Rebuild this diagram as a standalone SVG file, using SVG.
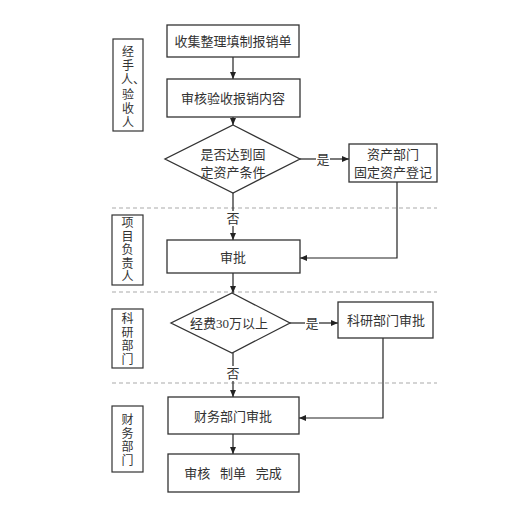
<svg xmlns="http://www.w3.org/2000/svg" width="521" height="506" viewBox="0 0 521 506">
<defs>
<marker id="arr" markerWidth="8" markerHeight="8" refX="7" refY="4" orient="auto" markerUnits="userSpaceOnUse">
<path d="M0,1 L7,4 L0,7 Z" fill="#222"/>
</marker>
<style>
.box{fill:#fff;stroke:#333;stroke-width:1.3}
.lane{fill:#fff;stroke:#333;stroke-width:1.2}
.t{font-family:"Liberation Serif","Noto Sans CJK SC",serif;font-size:13px;fill:#333;text-anchor:middle;dominant-baseline:central}
.v{font-size:12px}
.ln{fill:none;stroke:#222;stroke-width:1.2}
.dash{stroke:#aaa;stroke-width:1.2;stroke-dasharray:4,3}
</style>
</defs>
<rect width="521" height="506" fill="#fff"/>
<g id="separators">
<line class="dash" x1="112" y1="208" x2="437" y2="208"/>
<line class="dash" x1="112" y1="292" x2="437" y2="292"/>
<line class="dash" x1="112" y1="383" x2="437" y2="383"/>
</g>
<g id="lane1"><rect class="lane" x="113" y="39" width="30" height="92"/>
<text class="t v"><tspan x="128" y="52">经</tspan><tspan x="128" y="66">手</tspan><tspan x="133" y="80">人、</tspan><tspan x="128" y="95">验</tspan><tspan x="128" y="109">收</tspan><tspan x="128" y="123">人</tspan></text></g>
<g id="lane2"><rect class="lane" x="112" y="215" width="31" height="70"/>
<text class="t v"><tspan x="127.5" y="223">项</tspan><tspan x="127.5" y="236.5">目</tspan><tspan x="127.5" y="250">负</tspan><tspan x="127.5" y="263.5">责</tspan><tspan x="127.5" y="277">人</tspan></text></g>
<g id="lane3"><rect class="lane" x="112" y="309" width="31" height="59"/>
<text class="t v"><tspan x="127.5" y="319">科</tspan><tspan x="127.5" y="332.5">研</tspan><tspan x="127.5" y="346">部</tspan><tspan x="127.5" y="359.5">门</tspan></text></g>
<g id="lane4"><rect class="lane" x="112" y="406" width="31" height="66"/>
<text class="t v"><tspan x="127.5" y="420">财</tspan><tspan x="127.5" y="433.5">务</tspan><tspan x="127.5" y="447">部</tspan><tspan x="127.5" y="460.5">门</tspan></text></g>
<g id="connectors">
<line class="ln" x1="233" y1="57" x2="233" y2="79" marker-end="url(#arr)"/>
<line class="ln" x1="233" y1="117" x2="233" y2="125" marker-end="url(#arr)"/>
<polyline class="ln" points="300,159 316,159"/>
<line class="ln" x1="330" y1="159" x2="349" y2="159" marker-end="url(#arr)"/>
<line class="ln" x1="233" y1="193" x2="233" y2="211"/>
<line class="ln" x1="233" y1="226" x2="233" y2="240" marker-end="url(#arr)"/>
<polyline class="ln" points="397,182 397,258 300,258" marker-end="url(#arr)"/>
<line class="ln" x1="233" y1="273" x2="233" y2="293" marker-end="url(#arr)"/>
<line class="ln" x1="290" y1="323" x2="305" y2="323"/>
<line class="ln" x1="319" y1="323" x2="338" y2="323" marker-end="url(#arr)"/>
<line class="ln" x1="233" y1="353" x2="233" y2="366"/>
<line class="ln" x1="233" y1="381" x2="233" y2="397" marker-end="url(#arr)"/>
<polyline class="ln" points="383,338 383,418 299,418" marker-end="url(#arr)"/>
<line class="ln" x1="233" y1="434" x2="233" y2="454" marker-end="url(#arr)"/>
<text class="t" x="323" y="159">是</text>
<text class="t" x="233" y="218">否</text>
<text class="t" x="312" y="323">是</text>
<text class="t" x="233" y="373">否</text>
</g>
<g id="n1"><rect class="box" x="167" y="25" width="132" height="32"/><text class="t" x="233" y="41">收集整理填制报销单</text></g>
<g id="n2"><rect class="box" x="167" y="79" width="133" height="38"/><text class="t" x="233" y="98">审核验收报销内容</text></g>
<g id="d1"><polygon class="box" points="233,125 300,159 233,193 165,159"/><text class="t"><tspan x="233" y="154">是否达到固</tspan><tspan x="233" y="172">定资产条件</tspan></text></g>
<g id="n3"><rect class="box" x="349" y="144" width="88" height="38"/><text class="t"><tspan x="393" y="154">资产部门</tspan><tspan x="393" y="172">固定资产登记</tspan></text></g>
<g id="n4"><rect class="box" x="167" y="240" width="133" height="33"/><text class="t" x="233" y="257">审批</text></g>
<g id="d2"><polygon class="box" points="232,293 290,323 232,353 171,323"/><text class="t" x="229" y="323">经费30万以上</text></g>
<g id="n5"><rect class="box" x="338" y="302" width="95" height="36"/><text class="t" x="386" y="320">科研部门审批</text></g>
<g id="n6"><rect class="box" x="168" y="397" width="131" height="37"/><text class="t" x="233" y="416">财务部门审批</text></g>
<g id="n7"><rect class="box" x="168" y="454" width="131" height="38"/><text class="t" x="233" y="473" xml:space="preserve">审核   制单   完成</text></g>
</svg>
